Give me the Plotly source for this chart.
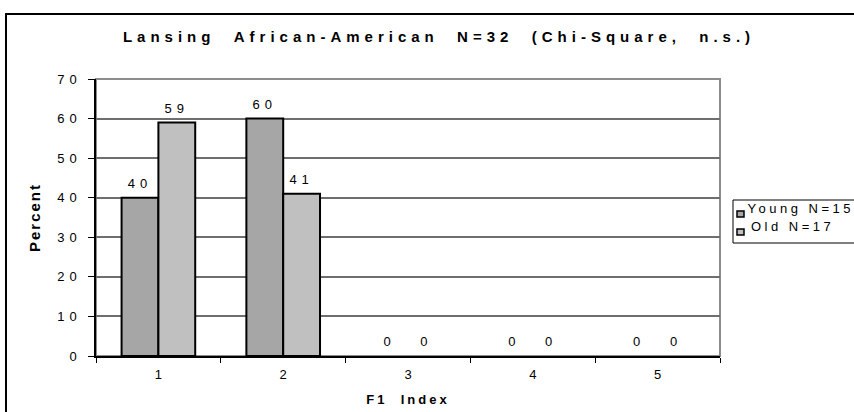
import plotly.graph_objects as go

categories = ["1", "2", "3", "4", "5"]
young = [40, 60, 0, 0, 0]
old = [59, 41, 0, 0, 0]
y_ticks = [0, 10, 20, 30, 40, 50, 60, 70]
series_names = ["Young N=15", "Old N=17"]
series_colors = ["#a6a6a6", "#c0c0c0"]

W, H = 854, 412
L, R, T, B = 96, 720, 79, 356          # plot area in pixels
pw, ph = R - L, B - T

FONT = "Liberation Sans, Arial, sans-serif"
NB = "\u00a0"


def px(x):
    return (x - L) / pw


def py(y):
    return (B - y) / ph


fig = go.Figure()
for vals, name, color in zip([young, old], series_names, series_colors):
    fig.add_trace(go.Bar(
        x=categories, y=vals, name=name, showlegend=False,
        marker=dict(color=color, line=dict(color="black", width=[2 if v else 0 for v in vals])),
        text=vals, textposition="outside", cliponaxis=False,
        textfont=dict(family=FONT, size=13, color="black"),
    ))

# outer chart frame (runs off the right and bottom edge)
fig.add_shape(type="rect", xref="paper", yref="paper",
              x0=px(6), x1=px(880), y0=py(440), y1=py(14),
              line=dict(color="black", width=2), layer="above")
# plot area border (gray top/right)
fig.add_shape(type="rect", xref="paper", yref="paper", x0=0, x1=1, y0=0, y1=1,
              line=dict(color="#8c8c8c", width=2), layer="below")

# legend box, drawn by hand to match the small square keys
fig.add_shape(type="rect", xref="paper", yref="paper",
              x0=px(733), x1=px(880), y0=py(243), y1=py(200),
              line=dict(color="black", width=1), fillcolor="white")
text_centers = [800, 792]
for i, (name, color) in enumerate(zip(series_names, series_colors)):
    yc = 214 + i * 18
    fig.add_shape(type="rect", xref="paper", yref="paper",
                  x0=px(737), x1=px(744), y0=py(yc + 3), y1=py(yc - 3),
                  line=dict(color="black", width=1.5), fillcolor=color)
    fig.add_annotation(xref="paper", yref="paper", x=px(text_centers[i]), y=py(yc - 6),
                       xanchor="center", yanchor="middle", showarrow=False,
                       text=name, font=dict(family=FONT, size=13, color="black"))

title = (NB * 2).join(["Lansing", "African-American", "N=32", "(Chi-Square,", "n.s.)"])
fig.update_layout(
    width=W, height=H,
    margin=dict(l=L, r=W - R, t=T, b=H - B, autoexpand=False),
    paper_bgcolor="white", plot_bgcolor="white",
    barmode="group", bargap=0.41, bargroupgap=0,
    showlegend=False,
    title=dict(text=title, x=439 / W, xanchor="center",
               y=1 - 37 / H, yanchor="middle",
               font=dict(family=FONT, size=15, color="black", weight="bold")),
    font=dict(family=FONT, size=13, color="black"),
    xaxis=dict(
        type="category", showline=True, linecolor="black", linewidth=1.5,
        ticks="outside", tickson="boundaries", ticklen=5, tickcolor="black",
        ticklabelstandoff=6,
        automargin=False, tickfont=dict(family=FONT, size=13),
        title=dict(text="F1" + NB * 2 + "Index", standoff=14,
                   font=dict(family=FONT, size=13, weight="bold")),
    ),
    yaxis=dict(
        range=[0, 70], tickvals=y_ticks,
        showline=True, linecolor="black", linewidth=1.5,
        ticks="outside", ticklen=6, tickcolor="black", ticklabelstandoff=4,
        showgrid=True, gridcolor="#6e6e6e", gridwidth=1.5,
        zeroline=False, automargin=False, tickfont=dict(family=FONT, size=13),
        title=dict(text="Percent", standoff=23,
                   font=dict(family=FONT, size=15, weight="bold")),
    ),
)

# page without body margin; the reference text is set with wide letter spacing
post = """
document.body.style.margin = '0';
var gd = document.getElementById('{plot_id}');
function spacing(sel, v) {
  gd.querySelectorAll(sel).forEach(function (e) { e.style.letterSpacing = v; });
}
function apply() {
  spacing('.gtitle', '5px');
  spacing('.ytick text', '5px');
  spacing('.bartext', '5px');
  spacing('.xtitle', '3px');
  spacing('.ytitle', '2px');
  spacing('.annotation-text', '3.5px');
  // value labels sit a little higher above the bars
  gd.querySelectorAll('.bartext').forEach(function (e) {
    if (e.dataset.lifted) return;
    e.setAttribute('transform', 'translate(0,-4) ' + (e.getAttribute('transform') || ''));
    e.dataset.lifted = '1';
  });
}
apply();
gd.on('plotly_afterplot', apply);
"""

fig.write_html("out.html", post_script=post, config={"displayModeBar": False})
